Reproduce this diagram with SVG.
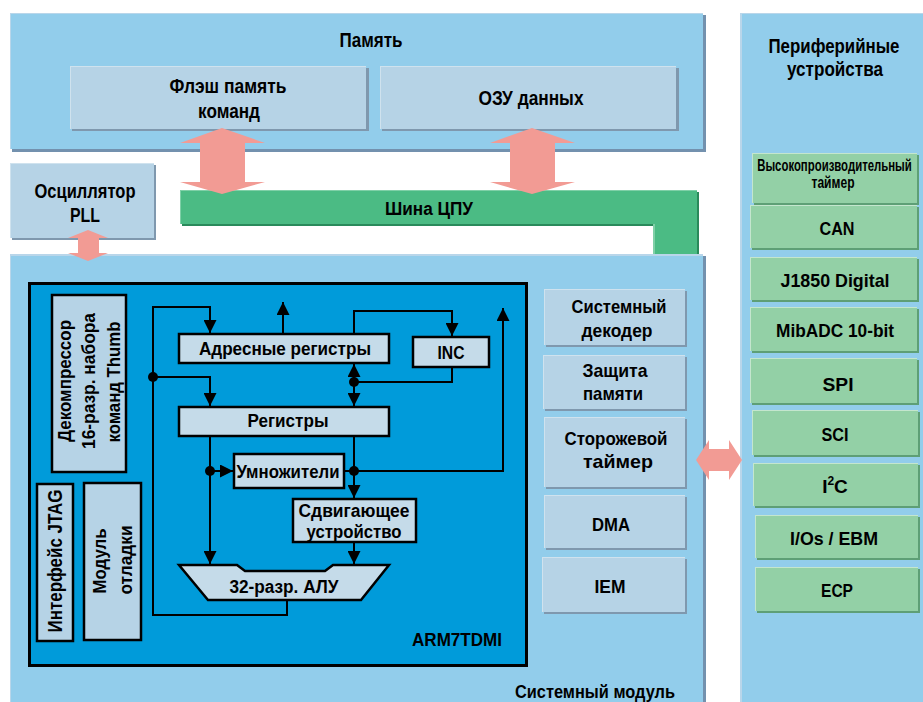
<svg xmlns="http://www.w3.org/2000/svg" width="923" height="702" viewBox="0 0 923 702">
  <defs>
    <style>
      .t { font-family: "Liberation Sans", Arial, sans-serif; font-weight: bold; fill: #000; text-anchor: middle; }
      .s20 { font-size: 20px; }
      .s19 { font-size: 19px; }
      .s18 { font-size: 18px; }
      .s16 { font-size: 16px; }
      .panel { fill: #92CDEB; }
      .panelShadow { fill: #7391AE; }
      .panelHi { fill: #B9D6EA; }
      .box { fill: #B6D3E6; }
      .boxShadow { fill: #7F98AE; }
      .boxHi { fill: #CFE2EE; }
      .core { fill: #C5DBE9; stroke: #000; stroke-width: 2.5; }
      .side { fill: #B6D3E6; stroke: #000; stroke-width: 2.5; }
      .green { fill: #93D0A6; }
      .greenShadow { fill: #5E9F76; }
      .greenHi { fill: #C4E6CE; }
      .bus { fill: #4BBB84; }
      .busShadow { fill: #2A8A5B; }
      .busHi { fill: #7FD0A7; }
      .pink { fill: #F29B94; }
      .wire { fill: none; stroke: #000; stroke-width: 2; }
      .dot { fill: #000; }
    </style>
    <marker id="arrow" markerUnits="userSpaceOnUse" viewBox="0 0 13 13" refX="13" refY="6.5" markerWidth="13" markerHeight="13" orient="auto">
      <path d="M0,0 L13,6.5 L0,13 Z" fill="#000"/>
    </marker>
  </defs>

  <rect width="923" height="702" fill="#FFFFFF"/>

  <!-- Memory panel -->
  <g id="memory">
    <rect class="panelShadow" x="12" y="15" width="694" height="137"/>
    <rect class="panelHi" x="10" y="13" width="693" height="136"/>
    <rect class="panel" x="11" y="14" width="692" height="135"/>
    <text class="t s20" x="371" y="47" textLength="63" lengthAdjust="spacingAndGlyphs">Память</text>
  </g>

  <g id="flash">
    <rect class="boxShadow" x="72" y="68" width="297" height="63"/>
    <rect class="boxHi" x="70" y="66" width="296" height="63"/>
    <rect class="box" x="71" y="67" width="295" height="62"/>
    <text class="t s20" x="228" y="93" textLength="117" lengthAdjust="spacingAndGlyphs">Флэш память</text>
    <text class="t s20" x="229" y="118" textLength="62" lengthAdjust="spacingAndGlyphs">команд</text>
  </g>

  <g id="ram">
    <rect class="boxShadow" x="382" y="68" width="297" height="63"/>
    <rect class="boxHi" x="380" y="66" width="296" height="63"/>
    <rect class="box" x="381" y="67" width="295" height="62"/>
    <text class="t s20" x="531" y="105" textLength="105" lengthAdjust="spacingAndGlyphs">ОЗУ данных</text>
  </g>

  <!-- Oscillator -->
  <g id="oscillator">
    <rect class="boxShadow" x="12" y="165" width="144" height="75"/>
    <rect class="boxHi" x="10" y="163" width="144" height="75"/>
    <rect class="box" x="11" y="164" width="143" height="74"/>
    <text class="t s20" x="85" y="198" textLength="101" lengthAdjust="spacingAndGlyphs">Осциллятор</text>
    <text class="t s20" x="85" y="222" textLength="30" lengthAdjust="spacingAndGlyphs">PLL</text>
  </g>

  <!-- CPU bus -->
  <g id="cpu-bus">
    <path class="busShadow" d="M182,192 H699 V256 H655 V226 H182 Z"/>
    <path class="busHi" d="M180,190 H697 V254 H653 V224 H180 Z"/>
    <path class="bus" d="M181,191 H697 V254 H655 V224 H181 Z"/>
    <text class="t s18" x="429" y="215" textLength="88" lengthAdjust="spacingAndGlyphs">Шина ЦПУ</text>
  </g>

  <!-- System module -->
  <g id="system-module">
    <rect class="panelShadow" x="12" y="256" width="694" height="446"/>
    <rect class="panelHi" x="10" y="254" width="693" height="448"/>
    <rect class="panel" x="11" y="256" width="692" height="446"/>
    <text class="t s18" x="595" y="698" textLength="160" lengthAdjust="spacingAndGlyphs">Системный модуль</text>
  </g>

  <!-- Peripherals panel -->
  <g id="peripherals">
    <rect class="panelHi" x="740" y="13" width="183" height="689"/>
    <rect class="panel" x="742" y="14" width="181" height="688"/>
    <text class="t s20" x="834" y="53" textLength="131" lengthAdjust="spacingAndGlyphs">Периферийные</text>
    <text class="t s20" x="835" y="76" textLength="96" lengthAdjust="spacingAndGlyphs">устройства</text>
  </g>

  <!-- ARM7TDMI core -->
  <g id="arm7tdmi">
    <rect x="29.5" y="283.5" width="497" height="382" fill="#009BDA" stroke="#000" stroke-width="3"/>
    <text class="t s19" x="457" y="646" textLength="90" lengthAdjust="spacingAndGlyphs">ARM7TDMI</text>
  </g>

  <g id="thumb-decompressor">
    <rect class="side" x="52" y="295" width="74" height="177"/>
    <text class="t s19" transform="translate(70.5,381) rotate(-90)" textLength="122" lengthAdjust="spacingAndGlyphs">Декомпрессор</text>
    <text class="t s19" transform="translate(95,381) rotate(-90)" textLength="136" lengthAdjust="spacingAndGlyphs">16-разр. набора</text>
    <text class="t s19" transform="translate(120,382) rotate(-90)" textLength="121" lengthAdjust="spacingAndGlyphs">команд Thumb</text>
  </g>

  <g id="jtag">
    <rect class="side" x="37" y="484" width="36" height="157"/>
    <text class="t s20" transform="translate(62,561) rotate(-90)" textLength="143" lengthAdjust="spacingAndGlyphs">Интерфейс JTAG</text>
  </g>

  <g id="debug-module">
    <rect class="side" x="84" y="483" width="57" height="157"/>
    <text class="t s19" transform="translate(106,561) rotate(-90)" textLength="65" lengthAdjust="spacingAndGlyphs">Модуль</text>
    <text class="t s19" transform="translate(132,560) rotate(-90)" textLength="69" lengthAdjust="spacingAndGlyphs">отладки</text>
  </g>

  <g id="address-registers">
    <rect class="core" x="179" y="334" width="210" height="29"/>
    <text class="t s18" x="285" y="355" textLength="172" lengthAdjust="spacingAndGlyphs">Адресные регистры</text>
  </g>

  <g id="inc">
    <rect class="core" x="413" y="337" width="76" height="30"/>
    <text class="t s18" x="451" y="359" textLength="27" lengthAdjust="spacingAndGlyphs">INC</text>
  </g>

  <g id="registers">
    <rect class="core" x="179" y="407" width="210" height="29"/>
    <text class="t s18" x="288" y="427" textLength="81" lengthAdjust="spacingAndGlyphs">Регистры</text>
  </g>

  <g id="multipliers">
    <rect class="core" x="234" y="454" width="110" height="34"/>
    <text class="t s18" x="288" y="478" textLength="103" lengthAdjust="spacingAndGlyphs">Умножители</text>
  </g>

  <g id="shifter">
    <rect class="core" x="293" y="499" width="123" height="43"/>
    <text class="t s18" x="354" y="517" textLength="111" lengthAdjust="spacingAndGlyphs">Сдвигающее</text>
    <text class="t s18" x="354" y="538" textLength="95" lengthAdjust="spacingAndGlyphs">устройство</text>
  </g>

  <g id="alu">
    <polygon class="core" points="179,565 237,565 245,571 325,571 333,565 389,565 361,600 208,600"/>
    <text class="t s18" x="284" y="593" textLength="109" lengthAdjust="spacingAndGlyphs">32-разр. АЛУ</text>
  </g>

  <!-- System module blocks -->
  <g id="system-decoder">
    <rect class="boxShadow" x="546" y="291" width="141" height="56"/>
    <rect class="boxHi" x="544" y="289" width="141" height="56"/>
    <rect class="box" x="545" y="290" width="140" height="55"/>
    <text class="t s19" x="619" y="313" textLength="95" lengthAdjust="spacingAndGlyphs">Системный</text>
    <text class="t s19" x="617" y="337" textLength="71" lengthAdjust="spacingAndGlyphs">декодер</text>
  </g>

  <g id="memory-protection">
    <rect class="boxShadow" x="545" y="357" width="142" height="54"/>
    <rect class="boxHi" x="543" y="355" width="142" height="54"/>
    <rect class="box" x="544" y="356" width="141" height="53"/>
    <text class="t s19" x="615" y="377" textLength="65" lengthAdjust="spacingAndGlyphs">Защита</text>
    <text class="t s19" x="613" y="400" textLength="60" lengthAdjust="spacingAndGlyphs">памяти</text>
  </g>

  <g id="watchdog">
    <rect class="boxShadow" x="546" y="419" width="141" height="70"/>
    <rect class="boxHi" x="544" y="417" width="141" height="70"/>
    <rect class="box" x="545" y="418" width="140" height="69"/>
    <text class="t s19" x="616" y="445" textLength="103" lengthAdjust="spacingAndGlyphs">Сторожевой</text>
    <text class="t s19" x="618" y="468" textLength="70" lengthAdjust="spacingAndGlyphs">таймер</text>
  </g>

  <g id="dma">
    <rect class="boxShadow" x="546" y="497" width="141" height="53"/>
    <rect class="boxHi" x="544" y="495" width="141" height="53"/>
    <rect class="box" x="545" y="496" width="140" height="52"/>
    <text class="t s19" x="611" y="531" textLength="38" lengthAdjust="spacingAndGlyphs">DMA</text>
  </g>

  <g id="iem">
    <rect class="boxShadow" x="544" y="559" width="143" height="55"/>
    <rect class="boxHi" x="542" y="557" width="143" height="55"/>
    <rect class="box" x="543" y="558" width="142" height="54"/>
    <text class="t s19" x="610" y="593" textLength="31" lengthAdjust="spacingAndGlyphs">IEM</text>
  </g>

  <!-- Peripheral blocks -->
  <g id="hp-timer">
    <rect class="greenShadow" x="754" y="155" width="165" height="50"/>
    <rect class="greenHi" x="752" y="153" width="165" height="50"/>
    <rect class="green" x="753" y="154" width="164" height="49"/>
    <text class="t s16" transform="translate(834.5,171) scale(0.74,1)" textLength="209" lengthAdjust="spacingAndGlyphs">Высокопроизводительный</text>
    <text class="t s16" x="833" y="188" textLength="43" lengthAdjust="spacingAndGlyphs">таймер</text>
  </g>

  <g id="can">
    <rect class="greenShadow" x="752" y="207" width="167" height="43"/>
    <rect class="greenHi" x="750" y="205" width="167" height="43"/>
    <rect class="green" x="751" y="206" width="166" height="42"/>
    <text class="t s19" x="837" y="235" textLength="35" lengthAdjust="spacingAndGlyphs">CAN</text>
  </g>

  <g id="j1850">
    <rect class="greenShadow" x="752" y="259" width="167" height="43"/>
    <rect class="greenHi" x="750" y="257" width="167" height="43"/>
    <rect class="green" x="751" y="258" width="166" height="42"/>
    <text class="t s19" x="835" y="287" textLength="109" lengthAdjust="spacingAndGlyphs">J1850 Digital</text>
  </g>

  <g id="mibadc">
    <rect class="greenShadow" x="752" y="309" width="167" height="44"/>
    <rect class="greenHi" x="750" y="307" width="167" height="44"/>
    <rect class="green" x="751" y="308" width="166" height="43"/>
    <text class="t s19" x="835" y="337" textLength="118" lengthAdjust="spacingAndGlyphs">MibADC 10-bit</text>
  </g>

  <g id="spi">
    <rect class="greenShadow" x="752" y="360" width="167" height="45"/>
    <rect class="greenHi" x="750" y="358" width="167" height="45"/>
    <rect class="green" x="751" y="359" width="166" height="44"/>
    <text class="t s19" x="838" y="391" textLength="31" lengthAdjust="spacingAndGlyphs">SPI</text>
  </g>

  <g id="sci">
    <rect class="greenShadow" x="754" y="412" width="166" height="45"/>
    <rect class="greenHi" x="752" y="410" width="166" height="45"/>
    <rect class="green" x="753" y="411" width="165" height="44"/>
    <text class="t s19" x="835" y="441" textLength="27" lengthAdjust="spacingAndGlyphs">SCI</text>
  </g>

  <g id="i2c">
    <rect class="greenShadow" x="755" y="465" width="165" height="43"/>
    <rect class="greenHi" x="753" y="463" width="165" height="43"/>
    <rect class="green" x="754" y="464" width="164" height="42"/>
    <text class="t s19" x="835" y="493">I<tspan font-size="12" dy="-8">2</tspan><tspan dy="8">C</tspan></text>
  </g>

  <g id="ios-ebm">
    <rect class="greenShadow" x="757" y="517" width="163" height="43"/>
    <rect class="greenHi" x="755" y="515" width="163" height="43"/>
    <rect class="green" x="756" y="516" width="162" height="42"/>
    <text class="t s19" x="834" y="545" textLength="88" lengthAdjust="spacingAndGlyphs">I/Os / EBM</text>
  </g>

  <g id="ecp">
    <rect class="greenShadow" x="757" y="569" width="163" height="44"/>
    <rect class="greenHi" x="755" y="567" width="163" height="44"/>
    <rect class="green" x="756" y="568" width="162" height="43"/>
    <text class="t s19" x="837" y="597" textLength="32" lengthAdjust="spacingAndGlyphs">ECP</text>
  </g>

  <!-- Connectors -->
  <g id="connectors">
    <!-- wide bus arrows -->
    <polygon class="pink" points="222,128 265,143 245,143 245,182 265,182 222,194 180,182 200,182 200,143 180,143"/>
    <polygon class="pink" points="532,128 575,143 555,143 555,182 575,182 532,194 490,182 510,182 510,143 490,143"/>
    <polygon class="pink" points="88,230 108,238 99,238 99,253 108,253 88,261 68,253 78,253 78,238 68,238"/>
    <polygon class="pink" points="696,460 709,440 709,449 729,449 729,440 742,460 729,480 729,471 709,471 709,480"/>

    <!-- core data paths -->
    <path class="wire" d="M287,601 V615 H153 V307 H210 V333" marker-end="url(#arrow)"/>
    <path class="wire" d="M153,377 H210 V406" marker-end="url(#arrow)"/>
    <path class="wire" d="M283,333 V302" marker-end="url(#arrow)"/>
    <path class="wire" d="M354,333 V311 H452 V336" marker-end="url(#arrow)"/>
    <path class="wire" d="M452,368 V382 H354"/>
    <path class="wire" d="M354,382 V364" marker-end="url(#arrow)"/>
    <path class="wire" d="M354,382 V406" marker-end="url(#arrow)"/>
    <path class="wire" d="M210,437 V564" marker-end="url(#arrow)"/>
    <path class="wire" d="M210,471 H233" marker-end="url(#arrow)"/>
    <path class="wire" d="M354,437 V498" marker-end="url(#arrow)"/>
    <path class="wire" d="M345,471 H503 V308" marker-end="url(#arrow)"/>
    <path class="wire" d="M354,543 V564" marker-end="url(#arrow)"/>

    <circle class="dot" cx="153" cy="377" r="5"/>
    <circle class="dot" cx="354" cy="382" r="5"/>
    <circle class="dot" cx="210" cy="471" r="5"/>
    <circle class="dot" cx="354" cy="471" r="5"/>
  </g>
</svg>
